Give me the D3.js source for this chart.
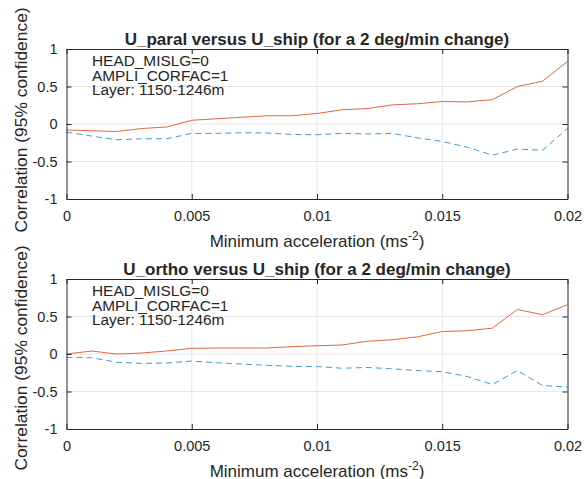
<!DOCTYPE html>
<html><head><meta charset="utf-8">
<script src="https://cdn.jsdelivr.net/npm/d3@7"></script>
<style>body{margin:0;background:#fff}svg{display:block}text{font-family:"Liberation Sans",Arial,sans-serif;fill:#262626}</style>
</head><body><div id="chart"></div>
<script>
const accel = [0,0.001,0.002,0.003,0.004,0.005,0.006,0.007,0.008,0.009,0.010,0.011,0.012,0.013,0.014,0.015,0.016,0.017,0.018,0.019,0.020];
const paralUpper = [-0.08,-0.09,-0.10,-0.06,-0.04,0.05,0.07,0.09,0.11,0.11,0.14,0.19,0.205,0.255,0.27,0.30,0.295,0.325,0.50,0.57,0.835];
const paralLower = [-0.11,-0.16,-0.21,-0.197,-0.197,-0.125,-0.125,-0.117,-0.12,-0.14,-0.143,-0.125,-0.133,-0.125,-0.184,-0.233,-0.31,-0.415,-0.335,-0.35,-0.06];
const orthoUpper = [0,0.04,0,0.013,0.04,0.076,0.08,0.08,0.08,0.098,0.11,0.12,0.17,0.19,0.228,0.30,0.31,0.344,0.594,0.523,0.657];
const orthoLower = [-0.045,-0.05,-0.11,-0.125,-0.12,-0.094,-0.117,-0.134,-0.15,-0.165,-0.167,-0.19,-0.18,-0.197,-0.22,-0.237,-0.30,-0.407,-0.22,-0.42,-0.44];
const xTicks = [0,0.005,0.01,0.015,0.02];
const xTickLabels = ["0","0.005","0.01","0.015","0.02"];
const yTicks = [-1,-0.5,0,0.5,1];
const yTickLabels = ["-1","-0.5","0","0.5","1"];
const titles = ["U_paral versus U_ship (for a 2 deg/min change)","U_ortho versus U_ship (for a 2 deg/min change)"];
const infoLines = ["HEAD_MISLG=0","AMPLI_CORFAC=1","Layer: 1150-1246m"];
const yLabel = "Correlation (95% confidence)";

const W=584,H=479;
const svg=d3.select("#chart").append("svg").attr("width",W).attr("height",H);
const panels=[
  {top:49,bottom:199,upper:paralUpper,lower:paralLower,title:titles[0],ylc:120},
  {top:279,bottom:429,upper:orthoUpper,lower:orthoLower,title:titles[1],ylc:358}
];
const x=d3.scaleLinear().domain([0,0.02]).range([66.5,567.5]);
const axisCol="#262626";
panels.forEach(p=>{
  const y=d3.scaleLinear().domain([-1,1]).range([p.bottom,p.top]);
  const g=svg.append("g");
  g.selectAll(".gx").data(xTicks.slice(1,-1)).join("line")
    .attr("x1",d=>x(d)).attr("x2",d=>x(d)).attr("y1",p.top).attr("y2",p.bottom)
    .attr("stroke","#e6e6e6").attr("stroke-width",1);
  g.selectAll(".gy").data(yTicks.slice(1,-1)).join("line")
    .attr("x1",x.range()[0]).attr("x2",x.range()[1]).attr("y1",d=>y(d)).attr("y2",d=>y(d))
    .attr("stroke","#e6e6e6").attr("stroke-width",1);
  const line=d3.line().x((d,i)=>x(accel[i])).y(d=>y(d));
  g.append("path").datum(p.upper).attr("d",line).attr("fill","none")
    .attr("stroke","#E06A3E").attr("stroke-width",1);
  g.append("path").datum(p.lower).attr("d",line).attr("fill","none")
    .attr("stroke","#3F9AD8").attr("stroke-width",1).attr("stroke-dasharray","6,4");
  const xb=d3.axisBottom(x).tickValues(xTicks).tickFormat((d,i)=>xTickLabels[i]).tickSizeInner(-5).tickSizeOuter(0).tickPadding(12);
  const xt=d3.axisTop(x).tickValues(xTicks).tickFormat("").tickSizeInner(-5).tickSizeOuter(0);
  const yl=d3.axisLeft(y).tickValues(yTicks).tickFormat((d,i)=>yTickLabels[i]).tickSizeInner(-5).tickSizeOuter(0).tickPadding(9);
  const yr=d3.axisRight(y).tickValues(yTicks).tickFormat("").tickSizeInner(-5).tickSizeOuter(0);
  const style=s=>{s.selectAll("path,line").attr("stroke",axisCol);s.selectAll("text").attr("fill",axisCol).style("font-size","14.5px").style("font-family","Liberation Sans, Arial, sans-serif");};
  g.append("g").attr("transform",`translate(0,${p.bottom})`).call(xb).call(style);
  g.append("g").attr("transform",`translate(0,${p.top})`).call(xt).call(style);
  g.append("g").attr("transform",`translate(${x.range()[0]},0)`).call(yl).call(style);
  g.append("g").attr("transform",`translate(${x.range()[1]},0)`).call(yr).call(style);
  g.append("text").attr("x",(x.range()[0]+x.range()[1])/2).attr("y",p.top-4.5).attr("text-anchor","middle")
    .style("font-size","17px").style("font-weight","bold").text(p.title);
  infoLines.forEach((t,i)=>g.append("text").attr("x",92).attr("y",p.top+17+i*14.5).style("font-size","15.4px").text(t));
  const xl=g.append("text").attr("x",(x.range()[0]+x.range()[1])/2).attr("y",p.bottom+48).attr("text-anchor","middle").style("font-size","17px");
  xl.append("tspan").text("Minimum acceleration (ms");
  xl.append("tspan").attr("dy",-7).style("font-size","12px").text("-2");
  xl.append("tspan").attr("dy",7).text(")");
  g.append("text").attr("transform",`translate(27,${p.ylc}) rotate(-90)`).attr("text-anchor","middle")
    .style("font-size","17.4px").text(yLabel);
});
</script></body></html>
